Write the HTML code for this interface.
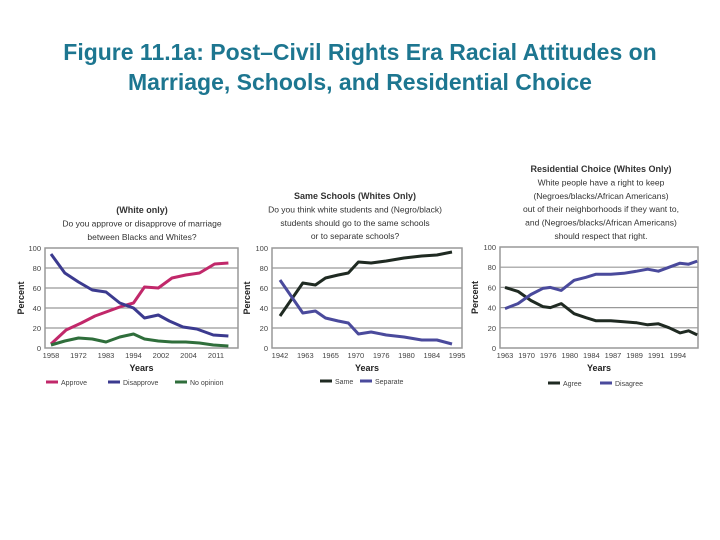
<!DOCTYPE html>
<html><head><meta charset="utf-8"><style>
body{margin:0;background:#fff;width:720px;height:540px;overflow:hidden;font-family:"Liberation Sans",sans-serif}
#title{position:absolute;left:0;top:37px;width:720px;text-align:center;color:#1d7690;font-weight:bold;font-size:23px;line-height:30px}
svg{position:absolute;left:0;top:0}
</style></head><body>
<div id="title">Figure 11.1a: Post–Civil Rights Era Racial Attitudes on<br>Marriage, Schools, and Residential Choice</div>
<svg id="svg" width="720" height="540"></svg>
<script>
// Chart 1: Marriage
const c1Labels=["1958","1972","1983","1994","2002","2004","2011"];
const c1ApproveT=[0,0.55,1.1,1.6,2.1,2.6,3,3.4,3.9,4.4,4.9,5.4,5.95,6.45];
const c1Approve=[4,18,25,32,37,42,45,61,60,70,73,75,84,85];
const c1DisapproveT=[0,0.5,1,1.5,2,2.5,3,3.4,3.9,4.3,4.8,5.3,5.9,6.45];
const c1Disapprove=[94,75,66,58,56,45,40,30,33,27,21,19,13,12];
const c1NoOpinionT=[0,0.5,1,1.5,2,2.5,3,3.4,3.9,4.4,4.9,5.4,5.9,6.45];
const c1NoOpinion=[3,7,10,9,6,11,14,9,7,6,6,5,3,2];
// Chart 2: Schools
const c2Labels=["1942","1963","1965","1970","1976","1980","1984","1995"];
const c2T=[0,0.9,1.4,1.8,2.3,2.7,3.1,3.6,4.2,4.9,5.6,6.2,6.8];
const c2Same=[32,65,63,70,73,75,86,85,87,90,92,93,96];
const c2Separate=[68,35,37,30,27,25,14,16,13,11,8,8,4];
// Chart 3: Residential
const c3Labels=["1963","1970","1976","1980","1984","1987","1989","1991","1994"];
const c3T=[0,0.6,1.2,1.75,2.1,2.6,3.2,3.75,4.2,4.9,5.5,6.1,6.6,7.1,7.6,8.1,8.5,8.9];
const c3Agree=[60,56,47,41,40,44,34,30,27,27,26,25,23,24,20,15,17,13];
const c3Disagree=[39,44,53,59,60,57,67,70,73,73,74,76,78,76,80,84,83,86];
const yTicks=[0,20,40,60,80,100];

const NS="http://www.w3.org/2000/svg";
const svg=document.getElementById('svg');
function mk(tag,attrs,parent){const e=document.createElementNS(NS,tag);for(const k in attrs)e.setAttribute(k,attrs[k]);(parent||svg).appendChild(e);return e;}
function txt(x,y,s,size,anchor,weight,name,fill){const t=mk('text',{x:x,y:y,'font-size':size,'text-anchor':anchor||'middle','font-weight':weight||'normal',fill:fill||'#333','font-family':'Liberation Sans, sans-serif'});t.textContent=s;


return t;}

function chart(cfg){
  const g=mk('g',{});
  
  
  const yS=v=>cfg.y0-(cfg.y0-cfg.y100)*v/100;
  const xS=t=>cfg.xs+cfg.step*t;
  for(const v of yTicks){
    if(v>0&&v<100){const l=mk('line',{x1:cfg.left,x2:cfg.right,y1:yS(v),y2:yS(v),stroke:'#999','stroke-width':1.2},g);
    
    }
    const t=txt(cfg.left-4,yS(v)+3,String(v),7.5,'end','normal','y-tick-label','#444');g.appendChild(t);
  }
  const r=mk('rect',{x:cfg.left,y:cfg.y100,width:cfg.right-cfg.left,height:cfg.y0-cfg.y100,fill:'none',stroke:'#999','stroke-width':1.5},g);
  
  
  cfg.labels.forEach((s,i)=>{g.appendChild(txt(xS(i),cfg.y0+10,s,7.5,'middle','normal','x-tick-label','#444'));});
  g.appendChild(txt((cfg.left+cfg.right)/2,cfg.y0+23,'Years',9,'middle','bold','x-axis-title','#222'));
  const yt=txt(0,0,'Percent',9,'middle','bold','y-axis-title','#222');
  yt.setAttribute('transform','translate('+cfg.ylabX+','+(cfg.y0+cfg.y100)/2+') rotate(-90)');g.appendChild(yt);
  cfg.series.forEach(s=>{
    const d=s.v.map((v,i)=>(i?'L':'M')+xS(s.t[i]).toFixed(1)+','+yS(v).toFixed(1)).join(' ');
    const p=mk('path',{d:d,fill:'none',stroke:s.c,'stroke-width':3,'stroke-linejoin':'round'},g);
    
    
  });
  cfg.title.forEach((s,i)=>g.appendChild(txt(cfg.cx,cfg.ty+i*13.4,s,i==0?9:8.5,'middle',i==0?'bold':'normal',i==0?'chart-title':'chart-question','#333')));
  cfg.series.forEach(s=>{
    const l=mk('line',{x1:s.lx,x2:s.lx+12,y1:cfg.ly,y2:cfg.ly,stroke:s.c,'stroke-width':3},g);
    
    
    g.appendChild(txt(s.lx+15,cfg.ly+3,s.label,7,'start','normal','legend-entry','#444'));
  });
}
chart({name:'marriage-chart',left:45,right:238,y100:248,y0:348,xs:51,step:27.5,ylabX:24,cx:142,ty:213,ly:382,
 labels:c1Labels,title:['(White only)','Do you approve or disapprove of marriage','between Blacks and Whites?'],
 series:[{n:'approve',label:'Approve',t:c1ApproveT,v:c1Approve,c:'#c1286a',lx:46},
  {n:'disapprove',label:'Disapprove',t:c1DisapproveT,v:c1Disapprove,c:'#3b3a8f',lx:108},
  {n:'no-opinion',label:'No opinion',t:c1NoOpinionT,v:c1NoOpinion,c:'#2f6e3b',lx:175}]});
chart({name:'schools-chart',left:272,right:462,y100:248,y0:348,xs:280,step:25.3,ylabX:250,cx:355,ty:199,ly:381,
 labels:c2Labels,title:['Same Schools (Whites Only)','Do you think white students and (Negro/black)','students should go to the same schools','or to separate schools?'],
 series:[{n:'same',label:'Same',t:c2T,v:c2Same,c:'#1f2a22',lx:320},
  {n:'separate',label:'Separate',t:c2T,v:c2Separate,c:'#4a4a9c',lx:360}]});
chart({name:'residential-chart',left:500,right:698,y100:247,y0:348,xs:505,step:21.6,ylabX:478,cx:601,ty:172,ly:383,
 labels:c3Labels,title:['Residential Choice (Whites Only)','White people have a right to keep','(Negroes/blacks/African Americans)','out of their neighborhoods if they want to,','and (Negroes/blacks/African Americans)','should respect that right.'],
 series:[{n:'agree',label:'Agree',t:c3T,v:c3Agree,c:'#1f2a22',lx:548},
  {n:'disagree',label:'Disagree',t:c3T,v:c3Disagree,c:'#4a4a9c',lx:600}]});
</script>
</body></html>
